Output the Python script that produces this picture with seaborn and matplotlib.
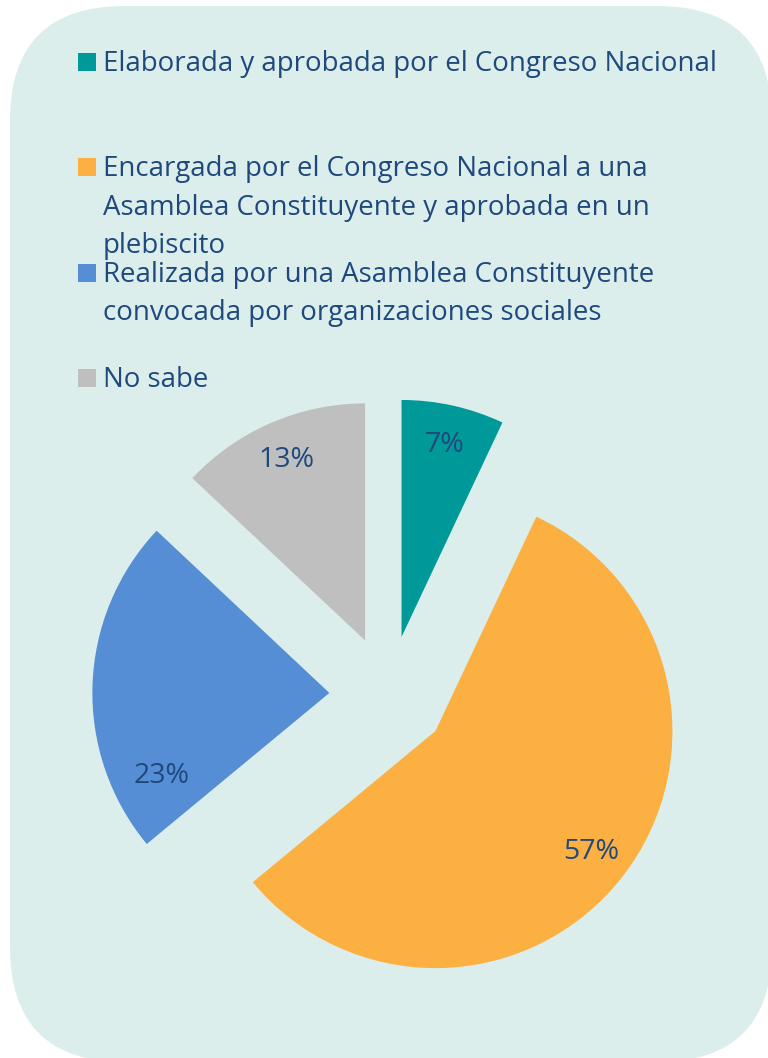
import numpy as np
import matplotlib
matplotlib.use("Agg")
import matplotlib.pyplot as plt
import seaborn as sns
from matplotlib.patches import FancyBboxPatch, Rectangle

# --- data ---
categories = [
    "Elaborada y aprobada por el Congreso Nacional",
    "Encargada por el Congreso Nacional a una\nAsamblea Constituyente y aprobada en un\nplebiscito",
    "Realizada por una Asamblea Constituyente\nconvocada por organizaciones sociales",
    "No sabe",
]
shares = [7, 57, 23, 13]
colors = ["#00999A", "#FBB041", "#558ED5", "#BFBFBF"]

BG = "#DBEEEC"
TXT = "#1F497D"

sns.set_theme(style="white")
plt.rcParams["font.family"] = ["Open Sans", "DejaVu Sans"]

W, H = 768, 1058
fig = plt.figure(figsize=(W / 100, H / 100), dpi=100, facecolor="white")

# background panel in pixel coordinates
ax_bg = fig.add_axes([0, 0, 1, 1])
ax_bg.set_xlim(0, W)
ax_bg.set_ylim(H, 0)
ax_bg.axis("off")
ax_bg.add_patch(FancyBboxPatch((10, 6), 762, 1056,
                               boxstyle="round,pad=0,rounding_size=115",
                               facecolor=BG, edgecolor="none"))

# legend, drawn by hand (Excel-like fixed slots)
first_base, slot, line_h = 71, 105.3, 38.5
for i, (lab, col) in enumerate(zip(categories, colors)):
    base = first_base + i * slot
    ax_bg.add_patch(Rectangle((78, base - 18), 18, 18, facecolor=col, edgecolor="none"))
    for k, line in enumerate(lab.split("\n")):
        ax_bg.text(103, base + k * line_h, line, fontsize=19.9, color=TXT,
                   va="baseline", ha="left")

# pie
R = 237
S = 2 * 1.4 * R
cx, cy = 388.6, 694.8
ax = fig.add_axes([(cx - S / 2) / W, (H - cy - S / 2) / H, S / W, S / H])
wedges, texts, autotexts = ax.pie(
    shares, colors=colors, startangle=90, counterclock=False,
    explode=[0.25] * len(shares), autopct="%d%%", pctdistance=0.83,
    wedgeprops=dict(linewidth=0),
    textprops=dict(color=TXT, fontsize=20.5),
)
ax.set_xlim(-1.4, 1.4)
ax.set_ylim(-1.4, 1.4)
ax.axis("off")

# the blue label sits lower than the bisector in the original
w = wedges[2]
mid = np.deg2rad((w.theta1 + w.theta2) / 2 + 28)
autotexts[2].set_position((w.center[0] + 0.79 * np.cos(mid), w.center[1] + 0.79 * np.sin(mid)))

fig.savefig("out.png", dpi=100, facecolor="white")
